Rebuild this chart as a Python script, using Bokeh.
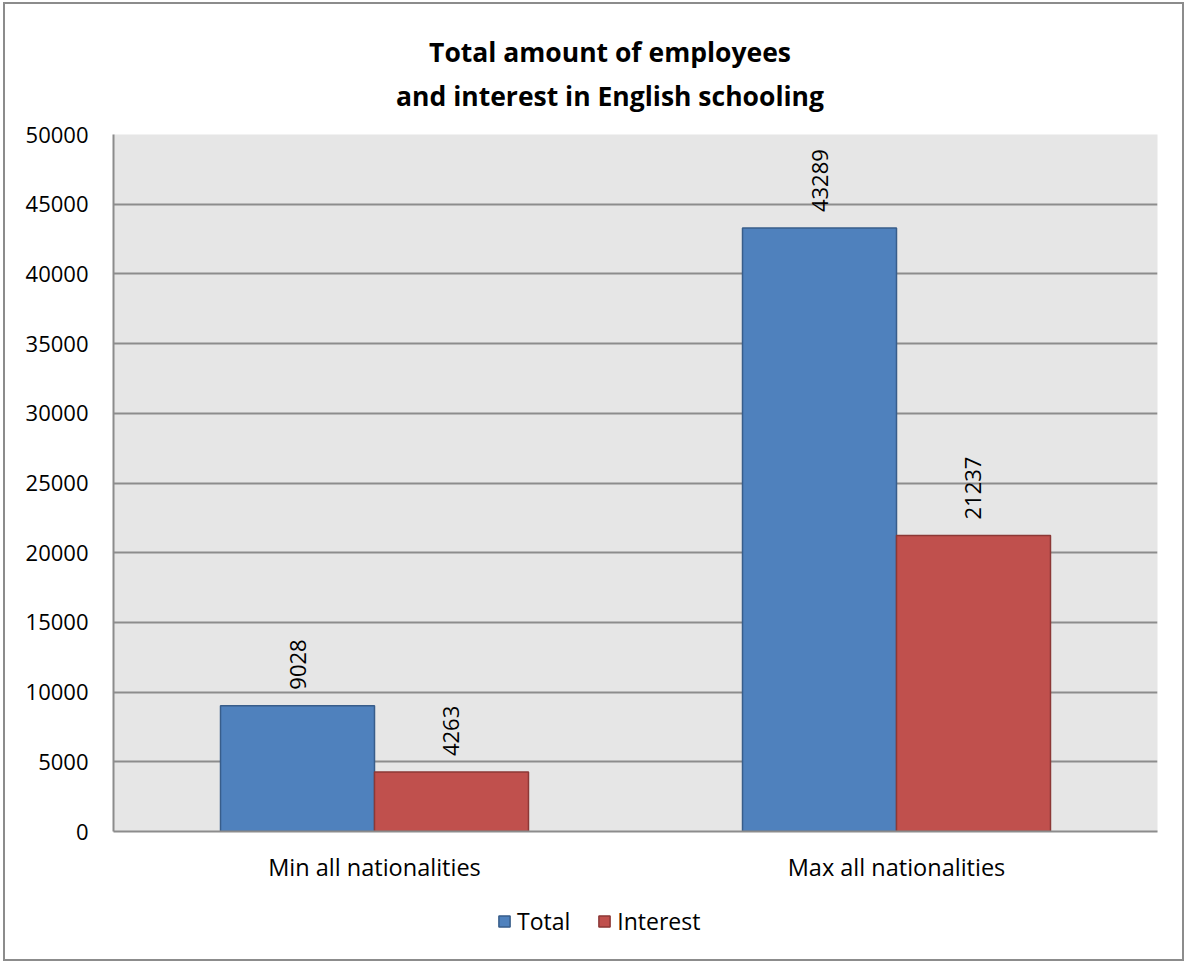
from bokeh.plotting import figure
from bokeh.layouts import column
from bokeh.models import FactorRange, Range1d, FixedTicker, Legend, LegendItem, ColumnDataSource, Label
from bokeh.core.properties import value
from bokeh.transform import dodge
from bokeh.embed import file_html
from bokeh.resources import INLINE
import math

categories = ["Min all nationalities", "Max all nationalities"]
series_names = ["Total", "Interest"]
total = [9028, 43289]
interest = [4263, 21237]
y_ticks = [0, 5000, 10000, 15000, 20000, 25000, 30000, 35000, 40000, 45000, 50000]
title_lines = ["Total amount of employees", "and interest in English schooling"]

FONT = "Open Sans"
BAR_W = 0.295
OFF = 0.1475
COLORS = {"Total": ("#4f81bd", "#385d8a"), "Interest": ("#c0504d", "#8c3836")}
GRID = "#8c8c8c"
W = 1177
BORDERS = dict(min_border_left=108, min_border_right=25)

src = ColumnDataSource(data=dict(
    cat=categories,
    total=total,
    interest=interest,
    total_lbl=[str(v) for v in total],
    interest_lbl=[str(v) for v in interest],
))

# title strip: each line centred on its own
head = figure(
    width=W, height=117, x_axis_type=None, y_axis_type=None,
    x_range=Range1d(0, 1), y_range=Range1d(0, 1),
    output_backend="svg", toolbar_location=None,
    min_border_top=0, min_border_bottom=0, **BORDERS,
    outline_line_color=None, background_fill_color="white", border_fill_color="white",
)
for text, ypos in zip(title_lines, (0.590, 0.222)):
    head.add_layout(Label(x=0.4756, y=ypos, text=text, text_align="center",
                          text_baseline="middle", text_font=FONT, text_font_size="26.5px",
                          text_font_style="bold", text_color="black"))

p = figure(
    width=W, height=769, title=None,
    x_range=FactorRange(*categories, range_padding=0),
    y_range=Range1d(0, 50000),
    output_backend="svg", toolbar_location=None,
    min_border_top=13, min_border_bottom=59, **BORDERS,
    background_fill_color="#e6e6e6",
    border_fill_color="white",
    outline_line_color=None,
)

r_total = p.vbar(x=dodge("cat", -OFF, range=p.x_range), top="total", width=BAR_W, source=src,
                 fill_color=COLORS["Total"][0], line_color=COLORS["Total"][1], line_width=1.5)
r_int = p.vbar(x=dodge("cat", OFF, range=p.x_range), top="interest", width=BAR_W, source=src,
               fill_color=COLORS["Interest"][0], line_color=COLORS["Interest"][1], line_width=1.5)

# value labels, rotated to read bottom-to-top above each bar
for col, lbl, off in (("total", "total_lbl", -OFF), ("interest", "interest_lbl", OFF)):
    p.text(x=dodge("cat", off, range=p.x_range), y=col, text=lbl, source=src,
           angle=math.pi / 2, text_align="left", text_baseline="middle",
           y_offset=-16, text_font=value(FONT), text_font_size="22px", text_color="black")

p.yaxis.ticker = FixedTicker(ticks=y_ticks)
p.yaxis.major_tick_line_color = None
p.yaxis.minor_tick_line_color = None
p.yaxis.axis_line_color = GRID
p.yaxis.axis_line_width = 2
p.yaxis.major_label_text_font = FONT
p.yaxis.major_label_text_font_size = "22px"
p.yaxis.major_label_text_color = "black"
p.yaxis.major_label_standoff = 19

p.xaxis.major_tick_line_color = None
p.xaxis.axis_line_color = GRID
p.xaxis.axis_line_width = 2
p.xaxis.major_label_text_font = FONT
p.xaxis.major_label_text_font_size = "23.5px"
p.xaxis.major_label_text_color = "black"
p.xaxis.major_label_standoff = 13

p.xgrid.grid_line_color = None
p.ygrid.grid_line_color = GRID
p.ygrid.grid_line_width = 2

# legend strip underneath the chart; its hidden bar renderers only supply the swatch styles
leg = figure(
    width=W, height=69, x_axis_type=None, y_axis_type=None,
    x_range=FactorRange(*categories), y_range=Range1d(0, 50000),
    output_backend="svg", toolbar_location=None,
    min_border_top=0, min_border_bottom=7, **BORDERS,
    outline_line_color=None, background_fill_color="white", border_fill_color="white",
)
items = []
for name, col in zip(series_names, ("total", "interest")):
    fill, line = COLORS[name]
    r = leg.vbar(x="cat", top=col, width=0.3, source=src, visible=False,
                 fill_color=fill, line_color=line, line_width=1.5)
    items.append(LegendItem(label=name, renderers=[r]))

legend = Legend(items=items, orientation="horizontal", location=(384, 15),
                border_line_color=None, background_fill_alpha=0,
                label_text_font=FONT, label_text_font_size="23px", label_text_color="black",
                glyph_width=14, glyph_height=14, spacing=27, label_standoff=6,
                padding=0, margin=0, click_policy="none")
leg.add_layout(legend, "center")

layout = column(head, p, leg, spacing=0, margin=(2, 0, 0, 3),
                styles={"border": "2px solid #8c8c8c", "box-sizing": "content-box"})

open("out.html", "w").write(file_html(layout, INLINE))
